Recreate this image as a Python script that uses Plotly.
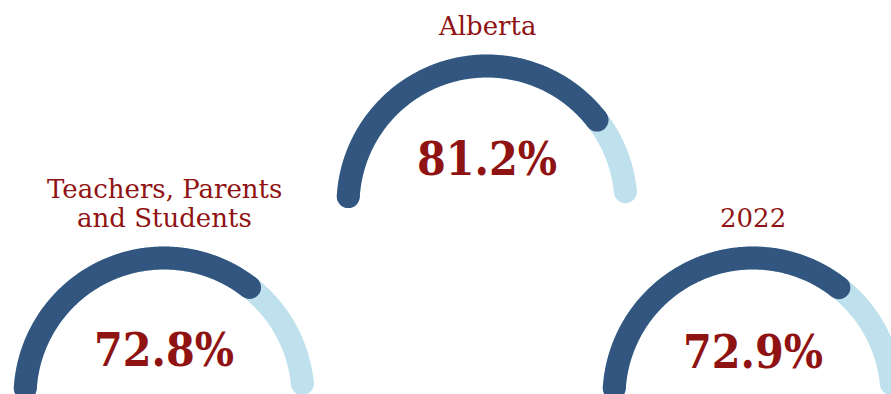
import numpy as np
import plotly.graph_objects as go

# Gauge data
names = ["Alberta", "Teachers, Parents|and Students", "2022"]
values = [81.2, 72.8, 72.9]
value_labels = ["81.2%", "72.8%", "72.9%"]

# Layout of each gauge (pixel-space axes)
centers_x = [487, 164, 753]
centers_y = [205, 397, 397]
title_lines_y = [[26], [189, 218], [218]]
value_label_y = [159, 350, 352]

RADIUS = 139
STROKE = 23
START_DEG, END_DEG = 176.5, 5.5
TRACK = "#bfe1ed"
FILL = "#32567f"
RED = "#901313"
W, H = 891, 394


def arc(cx, cy, frac):
    a0 = np.radians(START_DEG)
    a1 = np.radians(START_DEG - frac * (START_DEG - END_DEG))
    t = np.linspace(a0, a1, 240)
    return cx + RADIUS * np.cos(t), cy - RADIUS * np.sin(t)


fig = go.Figure()
for cx, cy, v in zip(centers_x, centers_y, values):
    for frac, color in ((1.0, TRACK), (v / 100.0, FILL)):
        xs, ys = arc(cx, cy, frac)
        fig.add_trace(go.Scatter(x=xs, y=ys, mode="lines",
                                 line=dict(color=color, width=STROKE, simplify=False),
                                 hoverinfo="skip", showlegend=False))
        # round caps at both ends
        fig.add_trace(go.Scatter(x=[xs[0], xs[-1]], y=[ys[0], ys[-1]], mode="markers",
                                 marker=dict(color=color, size=STROKE, line=dict(width=0)),
                                 hoverinfo="skip", showlegend=False))

annotations = []
for name, cx, ys, lab, vy in zip(names, centers_x, title_lines_y, value_labels, value_label_y):
    for line, ty in zip(name.split("|"), ys):
        annotations.append(dict(x=cx, y=ty, xref="x", yref="y", text=line, showarrow=False,
                                xanchor="center", yanchor="middle",
                                font=dict(family="DejaVu Serif", size=26, color=RED)))
    annotations.append(dict(x=cx, y=vy, xref="x", yref="y", text="<b>%s</b>" % lab,
                            showarrow=False, xanchor="center", yanchor="middle",
                            font=dict(family="DejaVu Serif Condensed, DejaVu Serif", size=46, color=RED)))

fig.update_layout(
    width=W, height=H,
    margin=dict(l=0, r=0, t=0, b=0),
    paper_bgcolor="#ffffff", plot_bgcolor="#ffffff",
    xaxis=dict(range=[0, W], visible=False, fixedrange=True),
    yaxis=dict(range=[H, 0], visible=False, fixedrange=True),
    annotations=annotations,
)
fig.write_html("out.html", config={"displayModeBar": False})
